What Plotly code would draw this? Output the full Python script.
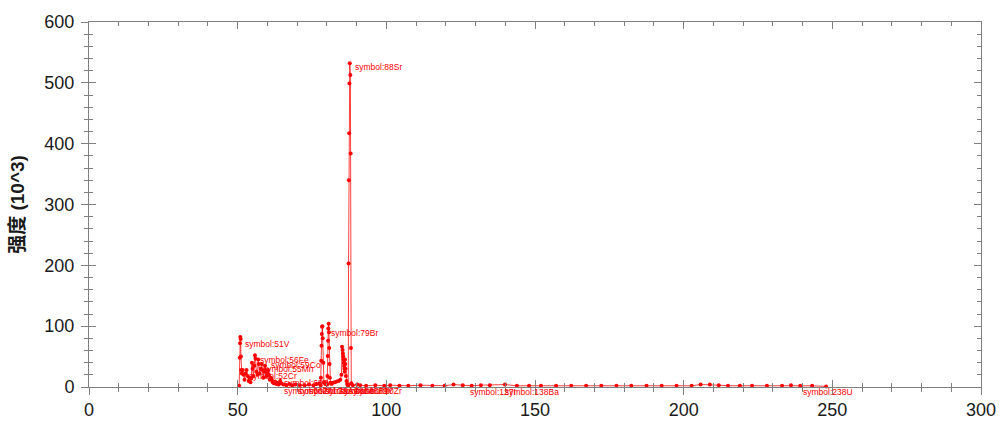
import plotly.graph_objects as go

# ---- spectrum data (mass axis, intensity in 10^3) ----
mass = [50.5, 50.7, 50.8, 50.9, 51.0, 51.1, 51.2, 51.4, 51.7, 52.0, 52.3, 52.7, 53.0, 53.3, 53.7, 54.0, 54.3,
        54.6, 54.8, 55.0, 55.3, 55.6, 55.8, 56.0, 56.3, 56.7, 56.9, 57.1, 57.4, 57.8, 58.1, 58.3, 58.6,
        58.9, 59.2, 59.4, 59.7, 60.0, 60.2, 60.5, 60.8, 61.2, 61.5, 61.8, 62.2, 62.6, 63.0, 63.4, 63.8,
        64.3, 64.7, 65.4, 66.4, 67.4, 68.4, 69.4, 70.9, 72.5, 74.0, 75.5, 76.5, 77.5,
        77.9, 78.0, 78.1, 78.2, 78.3, 78.4, 78.5, 78.6, 78.8, 79.0, 79.5, 79.9,
        80.1, 80.2, 80.3, 80.4, 80.5, 80.6, 80.7, 80.8, 80.9, 81.0, 81.2, 81.5,
        82.1, 82.7, 83.3, 83.9, 84.5, 84.9, 85.1, 85.3, 85.4, 85.5, 85.6, 85.7, 85.8, 85.9, 86.0,
        86.1, 86.2, 86.3, 86.4, 86.6, 86.8, 87.1,
        87.2, 87.3, 87.4, 87.5, 87.6, 87.7, 87.9, 88.0, 88.1, 88.2, 88.7,
        90.2, 91.2, 93.2, 96.3, 99.3, 101.3, 104.4, 107.4, 111.5, 115.5, 119.6, 122.6, 125.7, 128.7,
        131.8, 134.8, 139.9, 143.9, 148.0, 152.0, 157.1, 162.2, 167.2, 172.3, 177.4, 182.4, 187.5,
        192.6, 197.6, 202.7, 205.7, 208.8, 211.8, 214.9, 218.9, 223.0, 228.0, 233.1, 236.1, 239.2,
        243.2, 247.9]
intensity = [2, 48, 72, 82, 79, 50, 28, 22, 28, 20, 12, 22, 28, 18, 10, 15, 8,
             14, 40, 30, 18, 35, 52, 47, 25, 20, 45, 38, 22, 30, 38, 28, 15,
             25, 35, 28, 18, 22, 28, 20, 12, 15, 12, 8, 6, 9, 5, 7, 4,
             10, 6, 4, 3, 5, 3, 4, 3, 3, 4, 3, 5, 6,
             3, 15, 43, 68, 87, 99, 100, 80, 40, 8, 5, 6,
             4, 18, 51, 76, 96, 104, 90, 64, 38, 15, 7, 6,
             7, 8, 9, 10, 12, 20, 66, 61, 55, 50, 45, 40, 35, 30, 25,
             45, 38, 30, 18, 10, 5, 2,
             3, 203, 340, 417, 499, 532, 513, 384, 64, 6, 3,
             4, 3, 2, 3, 2, 3, 2, 2, 3, 2, 2, 4, 3, 2,
             3, 3, 4, 2, 2, 2, 2, 2, 2, 2, 2, 2, 2,
             2, 2, 2, 4, 4, 3, 2, 2, 2, 2, 2, 3, 2,
             2, 1]

# ---- peak labels ----
label_text = ["symbol:51V", "symbol:56Fe", "symbol:55Mn", "symbol:59Co", "symbol:52Cr", "symbol:63Cu",
              "symbol:66Zn", "symbol:71Ga", "symbol:75As", "symbol:78Se", "symbol:85Rb", "symbol:89Y",
              "symbol:90Zr", "symbol:79Br", "symbol:88Sr", "symbol:127I", "symbol:138Ba", "symbol:238U"]
label_x = [52.1, 57.2, 58.2, 60.8, 53.5, 65.3,
           65.3, 69.9, 73.5, 79.1, 84.1, 87.2,
           89.2, 81.1, 89.2, 127.9, 139.6, 239.8]
label_y = [71, 44, 30, 36, 18, 6,
           -6.5, -6.5, -6.5, -6.5, -6.5, -6.5,
           -6.5, 89, 526, -8.5, -8.5, -8.5]

x_ticks = [0, 50, 100, 150, 200, 250, 300]
y_ticks = [0, 100, 200, 300, 400, 500, 600]
y_title = "强度 (10^3)"
Y_MAX = 600

AX = "#7f7f7f"
TXT = "#1a1a1a"

fig = go.Figure()
fig.add_trace(go.Scatter(
    x=mass, y=intensity, mode="lines+markers",
    line=dict(color="rgba(255,0,0,0.75)", width=1),
    marker=dict(color="#ff0000", size=4),
    hoverinfo="x+y", showlegend=False, cliponaxis=False,
))
# helper trace so the overlay axes (outside tick halves) are drawn
fig.add_trace(go.Scatter(x=[], y=[], xaxis="x2", yaxis="y2", showlegend=False, hoverinfo="skip"))

for t, xx, yy in zip(label_text, label_x, label_y):
    # paper y-reference so labels placed just below the axis stay visible
    fig.add_annotation(x=xx, xref="x", y=yy / Y_MAX, yref="paper", text=t, showarrow=False,
                       xanchor="left", yanchor="middle",
                       font=dict(family="Arial, Liberation Sans", size=8.5, color="#ff0000"),
                       borderpad=0)

common = dict(showgrid=False, zeroline=False, tickcolor=AX, tickwidth=1, automargin=False)
fig.update_layout(
    width=1000, height=426,
    margin=dict(l=89, r=19, t=22, b=39),
    paper_bgcolor="white", plot_bgcolor="white",
    font=dict(family="Arial, Liberation Sans, Noto Sans CJK SC", color=TXT),
    xaxis=dict(range=[0, 300], tickvals=x_ticks, ticks="inside", ticklen=7, mirror="ticks",
               showline=True, linecolor=AX, linewidth=1, ticklabelstandoff=6, ticklabeloverflow="allow",
               minor=dict(dtick=10, tick0=0, ticks="inside", ticklen=4, tickcolor=AX),
               tickfont=dict(size=18, color=TXT), **common),
    yaxis=dict(range=[0, Y_MAX], tickvals=y_ticks, ticks="inside", ticklen=7, mirror="ticks",
               showline=True, linecolor=AX, linewidth=1, ticklabelstandoff=10, ticklabeloverflow="allow",
               minor=dict(dtick=20, tick0=0, ticks="inside", ticklen=4, tickcolor=AX),
               tickfont=dict(size=18, color=TXT),
               title=dict(text=y_title, font=dict(size=19, color=TXT, family="Arial, Noto Sans CJK SC", weight="bold"),
                          standoff=14),
               **common),
    xaxis2=dict(range=[0, 300], overlaying="x", side="bottom", anchor="y", tickvals=x_ticks, ticks="outside",
                ticklen=7, showticklabels=False, showline=False,
                minor=dict(dtick=10, tick0=0, ticks="outside", ticklen=4, tickcolor=AX), **common),
    yaxis2=dict(range=[0, Y_MAX], overlaying="y", side="left", anchor="x", tickvals=y_ticks, ticks="outside",
                ticklen=7, showticklabels=False, showline=False,
                minor=dict(dtick=20, tick0=0, ticks="outside", ticklen=4, tickcolor=AX), **common),
)

fig.write_html("out.html", config={"displayModeBar": False},
               post_script="document.body.style.margin='0';document.body.style.overflow='hidden';")
